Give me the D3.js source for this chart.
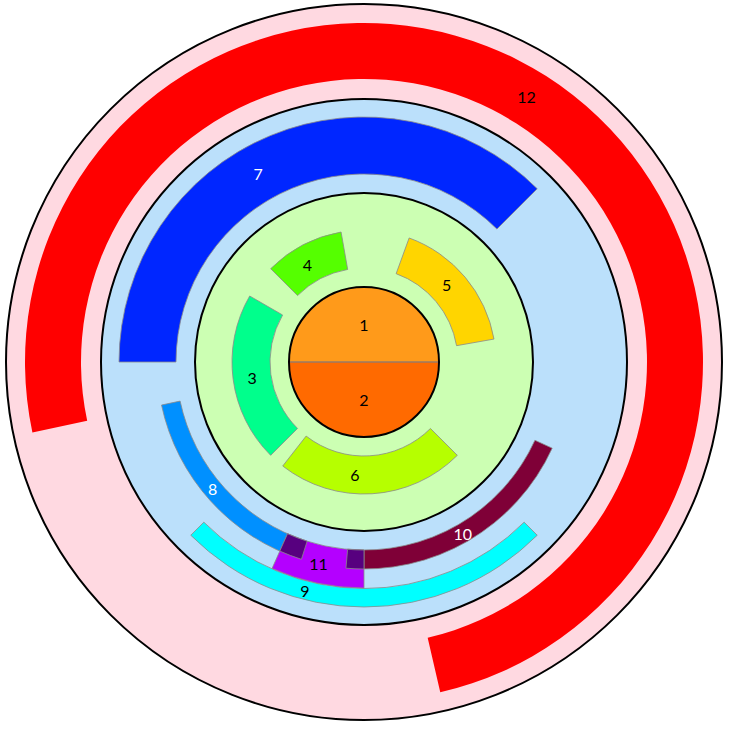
<!DOCTYPE html>
<html>
<head>
<meta charset="utf-8">
<script src="https://cdn.jsdelivr.net/npm/d3@7"></script>
<style>
  html, body { margin: 0; padding: 0; background: #ffffff; }
  svg { display: block; }
</style>
</head>
<body>
<svg id="chart" width="730" height="730"></svg>
<script>
// ---- data (angles in degrees, clockwise from 12 o'clock) ----
const labels   = ["1", "2", "3", "4", "5", "6", "7", "8", "9", "10", "11", "12"];
const startDeg = [-90, 90, 225, -45, 20, 135, -90, 197.6, 135, 114.6, 180, -102];
const endDeg   = [90, 270, 300, -10, 80, 218, 45, 258, 225, 185, 204, 167];
// lanes: 0 core, 1 green ring, 2-4 blue ring sub-lanes, 5 red ring
const laneFrom = [0, 0, 1, 1, 1, 1, 2, 2, 4, 2, 2, 5];
const laneTo   = [0, 0, 1, 1, 1, 1, 4, 2, 4, 2, 3, 5];
const labelDeg = [0, 180, 262, -30, 47, 184.6, -29.3, 230, 194.5, 150, 192.7, 31.5];
const colors   = ["#FF9A1A", "#FF6A00", "#00FF8C", "#55FF00", "#FFD500", "#B6FF00",
                  "#0026FF", "#0090FF", "#00FFFF", "#7F0037", "#B400FF", "#FF0000"];
const labelColors = ["#000", "#000", "#000", "#000", "#000", "#000",
                     "#fff", "#fff", "#000", "#fff", "#000", "#000"];
const overlapColor = "#57007F";

// ---- layout ----
const cx = 364, cy = 362;
const laneInner = [0, 94, 188, 207, 226.5, 283];
const laneOuter = [75, 132, 207, 226, 245, 339];
const rings = [
  { r: 358, fill: "#FFD9E1" },
  { r: 263, fill: "#BBE0FB" },
  { r: 169, fill: "#CCFFB3" }
];
const coreR = 75;

const svg = d3.select("#chart");
const g = svg.append("g").attr("transform", `translate(${cx},${cy})`);
const rad = d3.scaleLinear().domain([0, 360]).range([0, 2 * Math.PI]);

// background rings
g.selectAll("circle.ring").data(rings).join("circle")
  .attr("class", "ring")
  .attr("r", d => d.r)
  .attr("fill", d => d.fill)
  .attr("stroke", "#000")
  .attr("stroke-width", 2);

const items = labels.map((l, i) => ({
  label: l,
  start: startDeg[i], end: endDeg[i],
  inner: laneInner[laneFrom[i]], outer: laneOuter[laneTo[i]],
  lf: laneFrom[i], lt: laneTo[i],
  color: colors[i], textColor: labelColors[i], labelDeg: labelDeg[i]
}));

const arc = d3.arc()
  .innerRadius(d => d.inner)
  .outerRadius(d => d.outer)
  .startAngle(d => rad(d.start))
  .endAngle(d => rad(d.end));

g.selectAll("path.seg").data(items).join("path")
  .attr("class", "seg")
  .attr("d", arc)
  .attr("fill", d => d.color)
  .attr("stroke", (d, i) => i === 11 ? "none" : "#8a8a8a")
  .attr("stroke-width", (d, i) => i < 2 ? 0 : 0.8);

// overlaps between arcs in the blue ring (8 ∩ 11, 10 ∩ 11)
const overlaps = [];
[7, 9].forEach(a => {
  const b = 10;
  const A = items[a], B = items[b];
  const s = Math.max(A.start, B.start), e = Math.min(A.end, B.end);
  const lf = Math.max(A.lf, B.lf), lt = Math.min(A.lt, B.lt);
  if (s < e && lf <= lt) overlaps.push({ start: s, end: e, inner: laneInner[lf], outer: laneOuter[lt] });
});
g.selectAll("path.ov").data(overlaps).join("path")
  .attr("class", "ov")
  .attr("d", arc)
  .attr("fill", overlapColor)
  .attr("stroke", "#8a8a8a")
  .attr("stroke-width", 0.8);

// divider between 1 and 2
g.append("line")
  .attr("x1", -coreR).attr("x2", coreR).attr("y1", 0).attr("y2", 0)
  .attr("stroke", "#9a7a66").attr("stroke-width", 1.5);

// core outline
g.append("circle").attr("r", coreR).attr("fill", "none")
  .attr("stroke", "#000").attr("stroke-width", 2);

// labels
g.selectAll("text.lbl").data(items).join("text")
  .attr("class", "lbl")
  .attr("x", d => ((d.inner + d.outer) / 2) * Math.sin(rad(d.labelDeg)))
  .attr("y", d => -((d.inner + d.outer) / 2) * Math.cos(rad(d.labelDeg)))
  .attr("text-anchor", "middle")
  .attr("dominant-baseline", "central")
  .attr("font-family", "Lato, 'Open Sans', sans-serif")
  .attr("font-size", 16)
  .attr("fill", d => d.textColor)
  .text(d => d.label);
</script>
</body>
</html>
